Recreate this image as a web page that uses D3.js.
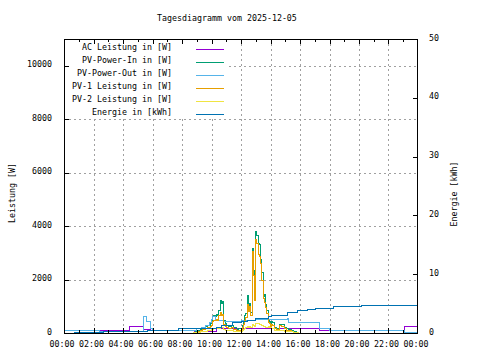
<!DOCTYPE html>
<html><head><meta charset="utf-8">
<script src="https://cdn.jsdelivr.net/npm/d3@7"></script>
<style>
html,body{margin:0;padding:0;background:#fff;}
text{font-family:"DejaVu Sans Mono",monospace;font-size:8.3px;fill:#000;}
</style></head>
<body><svg id="c" width="480" height="360"></svg>
<script>
// ---- data ----
const titleText = "Tagesdiagramm vom 2025-12-05";
const xTickLabels = ["00:00","02:00","04:00","06:00","08:00","10:00","12:00","14:00","16:00","18:00","20:00","22:00","00:00"];
const yTicks = [0,2000,4000,6000,8000,10000];
const y2Ticks = [0,10,20,30,40,50];
const seriesNames = ["AC Leistung in [W]","PV-Power-In in [W]","PV-Power-Out in [W]","PV-1 Leistung in [W]","PV-2 Leistung in [W]","Energie in [kWh]"];

const acTimes  = ["00:40","04:28","05:22","05:50","07:10","08:10","08:50","10:20","11:00","17:21","23:07","24:00"];
const acValues = [85,260,140,90,110,90,40,150,170,100,260,260];

const outTimes  = ["00:00","02:25","05:25","05:35","05:50","06:00","08:40","09:00","09:20","09:35","09:50","10:00","10:05","10:15","10:30","10:50","11:20","11:40","12:00","12:30","13:00","13:30","13:50","15:10","15:15","17:20","18:00","23:05","24:00"];
const outValues = [110,50,610,420,175,110,110,160,200,290,390,490,610,520,480,430,420,440,460,480,500,490,490,560,385,150,110,10,10];

const prodTimes = ["08:45","08:55","09:05","09:15","09:25","09:35","09:45","09:55","10:00","10:05","10:10","10:15","10:20","10:25","10:30","10:35","10:40","10:45","10:50","10:55","11:00","11:10","11:20","11:30","11:40","11:50","12:00","12:05","12:10","12:15","12:20","12:25","12:30","12:35","12:40","12:45","12:50","12:55","13:00","13:05","13:10","13:15","13:20","13:25","13:30","13:35","13:40","13:45","13:50","13:55","14:00","14:05","14:10","14:15","14:25","14:35","14:45","14:55","15:05","15:15","15:25","15:35","15:45","15:55"];
const inValues  = [20,50,90,140,190,230,280,350,420,600,650,600,680,640,850,1200,1120,1180,450,340,290,240,270,190,130,150,170,280,440,640,740,1400,950,1100,780,3150,2350,1350,3780,3650,3350,3300,2750,2250,1350,1450,1050,850,460,440,330,420,390,210,180,330,310,190,150,120,90,50,20,0];
const pv1Values = [10,25,50,80,120,150,190,240,290,430,480,450,520,480,650,760,640,700,330,250,210,180,200,140,90,110,130,200,330,480,580,1050,800,1000,640,3050,2150,1200,3480,3350,2950,2850,2600,1950,1300,1150,950,740,380,350,230,330,280,150,130,280,260,150,110,80,60,30,10,0];
const pv2Values = [10,20,35,50,60,70,80,100,120,140,150,150,160,150,180,210,200,210,130,110,100,90,100,70,50,60,70,90,120,160,190,260,210,230,210,310,290,260,360,360,340,330,310,290,240,230,210,210,230,210,190,170,160,110,90,100,90,70,60,50,45,35,25,0];

const energyTimes  = ["00:40","02:40","05:40","07:45","10:05","10:20","10:40","11:05","11:27","12:00","12:25","13:00","13:50","14:05","15:10","15:50","16:30","17:05","18:15","20:10","21:15","24:00"];
const energyValues = [0.05,0.3,0.5,0.8,0.8,1.0,1.2,1.36,1.82,1.95,2.2,2.43,2.77,3.06,3.52,3.8,4.03,4.17,4.47,4.6,4.76,4.76];

const colors = ["#9400d3","#009e73","#56b4e9","#e69f00","#f0e442","#0072b2"];

// ---- drawing ----
function toH(s){const p=s.split(":");return +p[0]+(+p[1])/60;}
function zip(ts,vs){return ts.map((t,i)=>({t:toH(t),v:vs[i]}));}

const L=64,R=418,T=39,B=333;
const svg=d3.select("#c");
const x=d3.scaleLinear().domain([0,24]).range([L,R]);
const y=d3.scaleLinear().domain([0,11000]).range([B,T]);
const y2=d3.scaleLinear().domain([0,50]).range([B,T]);

const g=svg.append("g").attr("shape-rendering","crispEdges");
// grid
const hrs=d3.range(2,24,2);
g.selectAll(".vg").data(hrs).enter().append("line")
 .attr("x1",d=>Math.round(x(d))+0.5).attr("x2",d=>Math.round(x(d))+0.5)
 .attr("y1",T).attr("y2",B).attr("stroke","#a0a0a0").attr("stroke-dasharray","2,3");
g.selectAll(".hg").data(yTicks.filter(d=>d>0)).enter().append("line")
 .attr("y1",d=>Math.round(y(d))+0.5).attr("y2",d=>Math.round(y(d))+0.5)
 .attr("x1",L).attr("x2",R).attr("stroke","#a0a0a0").attr("stroke-dasharray","2,3");

// opaque key background
g.append("rect").attr("x",L+1).attr("y",T+1).attr("width",164).attr("height",78).attr("fill","#fff");

// series
const line=d3.line().x(d=>x(d.t)).y(d=>y(d.v)).curve(d3.curveStepAfter);
const line2=d3.line().x(d=>x(d.t)).y(d=>y2(d.v)).curve(d3.curveStepAfter);
const data=[
 {d:zip(acTimes,acValues),l:line},
 {d:zip(prodTimes,inValues),l:line},
 {d:zip(outTimes,outValues),l:line},
 {d:zip(prodTimes,pv1Values),l:line},
 {d:zip(prodTimes,pv2Values),l:line},
 {d:zip(energyTimes,energyValues),l:line2}
];
data.forEach((s,i)=>{
 g.append("path").attr("d",s.l(s.d)).attr("fill","none").attr("stroke",colors[i]).attr("stroke-width",1);
});

// border
g.append("rect").attr("x",L+0.5).attr("y",T+0.5).attr("width",R-L-1).attr("height",B-T)
 .attr("fill","none").attr("stroke","#000");

// x ticks
const allH=d3.range(1,24);
allH.forEach(h=>{
 const len=h%2===0?5:3; const xx=Math.round(x(h))+0.5;
 g.append("line").attr("x1",xx).attr("x2",xx).attr("y1",B).attr("y2",B-len).attr("stroke","#000");
 g.append("line").attr("x1",xx).attr("x2",xx).attr("y1",T).attr("y2",T+len).attr("stroke","#000");
});
svg.selectAll(".xl").data(xTickLabels).enter().append("text")
 .attr("x",(d,i)=>x(i*2)-2).attr("y",344).attr("dy","0.35em").attr("text-anchor","middle").text(d=>d);

// y ticks
yTicks.forEach(v=>{
 const yy=Math.round(y(v))+0.5;
 g.append("line").attr("x1",L).attr("x2",L+5).attr("y1",yy).attr("y2",yy).attr("stroke","#000");
});
svg.selectAll(".yl").data(yTicks).enter().append("text")
 .attr("x",52).attr("y",d=>y(d)-1.4).attr("dy","0.35em").attr("text-anchor","end").text(d=>d);
y2Ticks.forEach(v=>{
 const yy=Math.round(y2(v))+0.5;
 g.append("line").attr("x1",R-5).attr("x2",R).attr("y1",yy).attr("y2",yy).attr("stroke","#000");
});
svg.selectAll(".y2l").data(y2Ticks).enter().append("text")
 .attr("x",429).attr("y",d=>y2(d)-1.4).attr("dy","0.35em").attr("text-anchor","start").text(d=>d);

// axis titles
svg.append("text").attr("transform","translate(12,193) rotate(-90)").attr("dy","0.35em").attr("text-anchor","middle").text("Leistung [W]");
svg.append("text").attr("transform","translate(454,194) rotate(-90)").attr("dy","0.35em").attr("text-anchor","middle").text("Energie [kWh]");
svg.append("text").attr("x",157).attr("y",17.7).attr("dy","0.35em").text(titleText);

// legend
seriesNames.forEach((n,i)=>{
 const yy=47.3+i*13;
 svg.append("text").attr("x",172).attr("y",yy).attr("dy","0.35em").attr("text-anchor","end").text(n);
 g.append("line").attr("x1",196).attr("x2",224).attr("y1",Math.round(yy+2)+0.5).attr("y2",Math.round(yy+2)+0.5).attr("stroke",colors[i]);
});
</script></body></html>
